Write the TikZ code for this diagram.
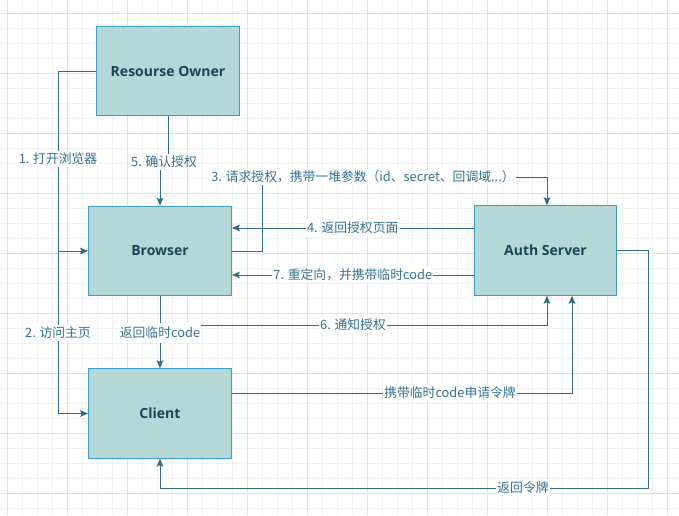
\documentclass[tikz,border=0pt]{standalone}
\usepackage{fontspec}
\setmainfont{Noto Sans CJK SC}
\newfontfamily\titlefont{Open Sans}
\usetikzlibrary{arrows.meta}
\definecolor{boxfill}{RGB}{179,216,214}
\definecolor{boxline}{RGB}{58,158,200}
\definecolor{boxtext}{RGB}{27,70,90}
\definecolor{edgecol}{RGB}{46,110,140}
\definecolor{labcol}{RGB}{52,115,148}
\definecolor{gridminor}{RGB}{240,240,240}
\definecolor{gridmajor}{RGB}{224,224,224}
\tikzset{
  box/.style={draw=boxline, fill=boxfill, line width=0.9pt, minimum width=107pt, minimum height=67pt, inner sep=0pt, font=\titlefont\bfseries\fontsize{10.5pt}{12pt}\selectfont, text=boxtext},
  edge/.style={draw=edgecol, line width=0.75pt, -{Stealth[length=6pt,width=5pt,inset=1.2pt]}},
  plain/.style={draw=edgecol, line width=0.75pt},
  lab/.style={fill=white, text=labcol, font=\fontsize{9.6pt}{10.5pt}\selectfont, inner xsep=1pt, inner ysep=1.5pt},
}
\begin{document}
\begin{tikzpicture}[x=0.75pt,y=-0.75pt]
\useasboundingbox (0,0) rectangle (679,515);
\fill[white] (0,0) rectangle (679,515);
% grid
\foreach \i in {0,...,44} {
  \pgfmathsetmacro\gx{7.3+15*\i}
  \draw[gridminor, line width=0.75pt] (\gx,0) -- (\gx,515);
}
\foreach \i in {0,...,34} {
  \pgfmathsetmacro\gy{13.3+15*\i}
  \draw[gridminor, line width=0.75pt] (0,\gy) -- (679,\gy);
}
\foreach \i in {0,...,11} {
  \pgfmathsetmacro\gx{7.3+60*\i}
  \draw[gridmajor, line width=0.75pt] (\gx,0) -- (\gx,515);
}
\foreach \i in {0,...,8} {
  \pgfmathsetmacro\gy{13.3+60*\i}
  \draw[gridmajor, line width=0.75pt] (0,\gy) -- (679,\gy);
}
% boxes
\node[box] (ro) at (168,71) {Resourse Owner};
\node[box] (br) at (160,251) {Browser};
\node[box] (au) at (545.5,250.5) {Auth Server};
\node[box] (cl) at (160,413.5) {Client};
% helper coordinates
\coordinate (lx1) at (58,251);
\coordinate (lx2) at (58,413.5);
\coordinate (e3a) at (262,177);
\coordinate (e3b) at (547,177);
\coordinate (e4) at (0,228);
\coordinate (e7) at (0,275);
\coordinate (e6s) at (160.5,325);
\coordinate (e6c) at (547,325);
\coordinate (e8) at (572,393);
\coordinate (e9a) at (648,250.5);
\coordinate (e9b) at (648,488);
% edges
\draw[edge] (ro.west) -| (lx1) -- (br.west);
\draw[edge] (ro.west) -| (lx2) -- (cl.west);
\draw[edge] (ro.south) -- ++(0,47) -| (br.north);
\draw[edge] (br.east) -| (e3a) -- (e3b) -- (e3b |- au.north);
\draw[edge] (au.west |- e4) -- node[lab] (l4) {4. 返回授权页面} (br.east |- e4);
\draw[edge] (au.west |- e7) -- node[lab] (l7) {7. 重定向，并携带临时code} (br.east |- e7);
\draw[edge] (e6s) -- (e6c) -- (e6c |- au.south);
\draw[edge] (br.south) -- (cl.north);
\draw[edge] (cl.east |- e8) -- (e8) -- (e8 |- au.south);
\draw[edge] (au.east) -- (e9a) -- (e9b) -| (cl.south);
% labels
\node[lab] (l1) at (58,159) {1. 打开浏览器};
\node[lab] (l2) at (58,333) {2. 访问主页};
\node[lab] (l5) at (164,162) {5. 确认授权};
\node[lab] (l3) at (363,177) {3. 请求授权，携带一堆参数（id、secret、回调域...）};
\node[lab] (l6) at (353,325) {6. 通知授权};
\node[lab, inner ysep=3pt] (lc) at (160,333) {返回临时code};
\node[lab] (l8) at (450,393) {携带临时code申请令牌};
\node[lab] (l9) at (523,488) {返回令牌};
\end{tikzpicture}
\end{document}
